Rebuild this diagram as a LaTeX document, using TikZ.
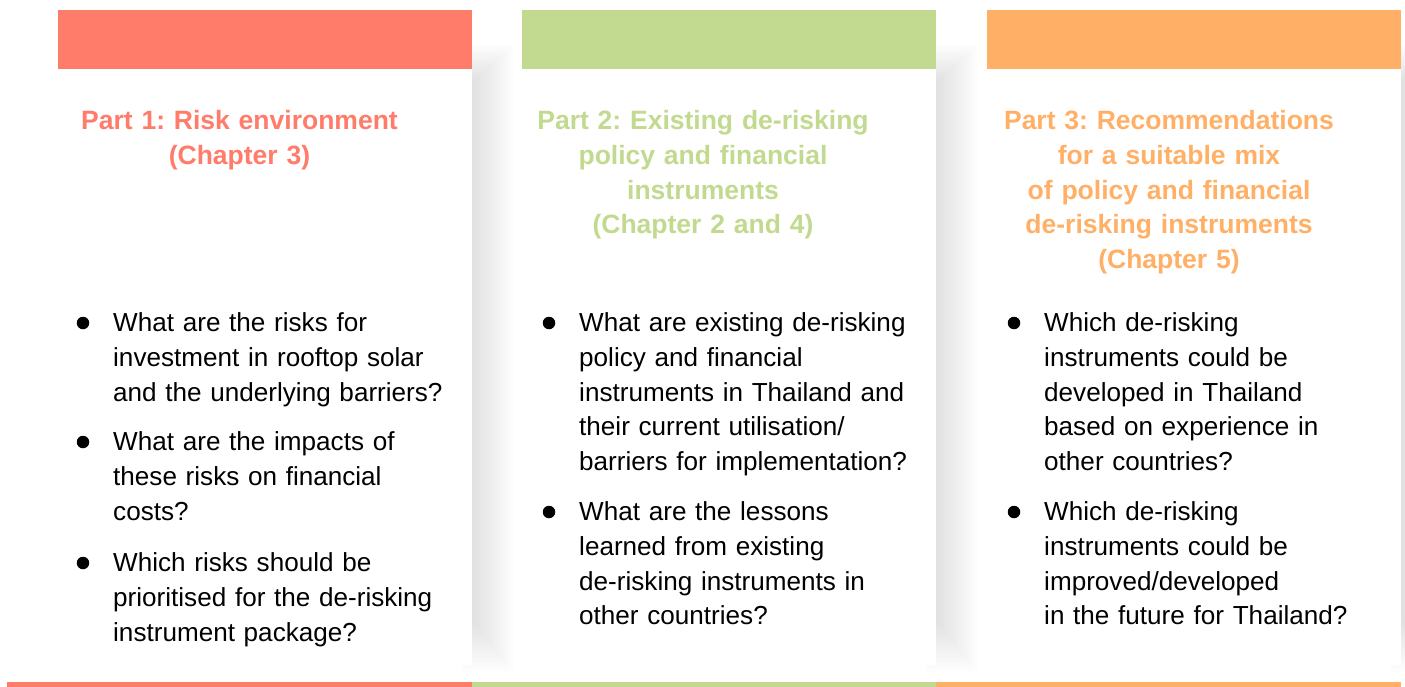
\documentclass[tikz,border=0pt]{standalone}
\usepackage{fontspec}
\setmainfont{Liberation Sans}

\definecolor{partred}{RGB}{255,123,106}
\definecolor{partgreen}{RGB}{194,218,143}
\definecolor{partorange}{RGB}{255,176,102}

\begin{document}
\frenchspacing
\begin{tikzpicture}[x=1bp, y=-1bp,
        bar/.style={fill=#1, inner sep=0pt, minimum width=414bp, minimum height=59bp},
        card/.style={fill=white, inner sep=0pt, minimum width=414bp, minimum height=596bp},
        cardshadow/.style={fill=black, opacity=0.009},
        heading/.style={text=#1, font=\bfseries\fontsize{26.5bp}{34.75bp}\selectfont,
            text width=420bp, align=center, inner sep=0pt, anchor=base},
        item/.style={font=\fontsize{26.1bp}{34.75bp}\selectfont, text width=345bp,
            align=left, inner sep=0pt, anchor=base west},
        dot/.style={circle, fill=black, inner sep=0pt, minimum size=12.5bp}]

    \useasboundingbox (0,0) rectangle (1405,687);

    \foreach \cx in {472,936,1401}
        \foreach \i in {0,...,14}
            \fill[cardshadow] ({\cx-10},{45+2.5*\i}) rectangle ({\cx+42-2.8*\i},{672-3.5*\i});

    \node[card] (card1) at (265,367) {};
    \node[card] (card2) at (729,367) {};
    \node[card] (card3) at (1194,367) {};

    \node[bar=partred] (bar1) at (265,39.5) {};
    \node[bar=partgreen] (bar2) at (729,39.5) {};
    \node[bar=partorange] (bar3) at (1194,39.5) {};

    \node[heading=partred] (head1) at (239.5,129.5) {Part 1: Risk environment\\(Chapter 3)};
    \node[heading=partgreen] (head2) at (703,129.5) {Part 2: Existing de-risking\\policy and financial\\instruments\\(Chapter 2 and 4)};
    \node[heading=partorange] (head3) at (1169,129.5) {Part 3: Recommendations\\for a suitable mix\\of policy and financial\\de-risking instruments\\(Chapter 5)};

    \node[item] (item11) at (113,331.5) {What are the risks for\\investment in rooftop solar\\and the underlying barriers?};
    \node[item] (item12) at (113,450.5) {What are the impacts of\\these risks on financial\\costs?};
    \node[item] (item13) at (113,571.5) {Which risks should be\\prioritised for the de-risking\\instrument package?};

    \node[item] (item21) at (579,331.5) {What are existing de-risking\\policy and financial\\instruments in Thailand and\\their current utilisation/\\barriers for implementation?};
    \node[item] (item22) at (579,520.5) {What are the lessons\\learned from existing\\de-risking instruments in\\other countries?};

    \node[item] (item31) at (1044,331.5) {Which de-risking\\instruments could be\\developed in Thailand\\based on experience in\\other countries?};
    \node[item] (item32) at (1044,520.5) {Which de-risking\\instruments could be\\improved/developed\\in the future for Thailand?};

    \node[dot] (dot11) at ([xshift=-30bp, yshift=8.5bp]item11.base west) {};
    \node[dot] (dot12) at ([xshift=-30bp, yshift=8.5bp]item12.base west) {};
    \node[dot] (dot13) at ([xshift=-30bp, yshift=8.5bp]item13.base west) {};
    \node[dot] (dot21) at ([xshift=-30bp, yshift=8.5bp]item21.base west) {};
    \node[dot] (dot22) at ([xshift=-30bp, yshift=8.5bp]item22.base west) {};
    \node[dot] (dot31) at ([xshift=-30bp, yshift=8.5bp]item31.base west) {};
    \node[dot] (dot32) at ([xshift=-30bp, yshift=8.5bp]item32.base west) {};

    \fill[partred] (7,682) rectangle (472,687);
    \fill[partgreen] (472,682) rectangle (936,687);
    \fill[partorange] (936,682) rectangle (1401,687);
\end{tikzpicture}
\end{document}
